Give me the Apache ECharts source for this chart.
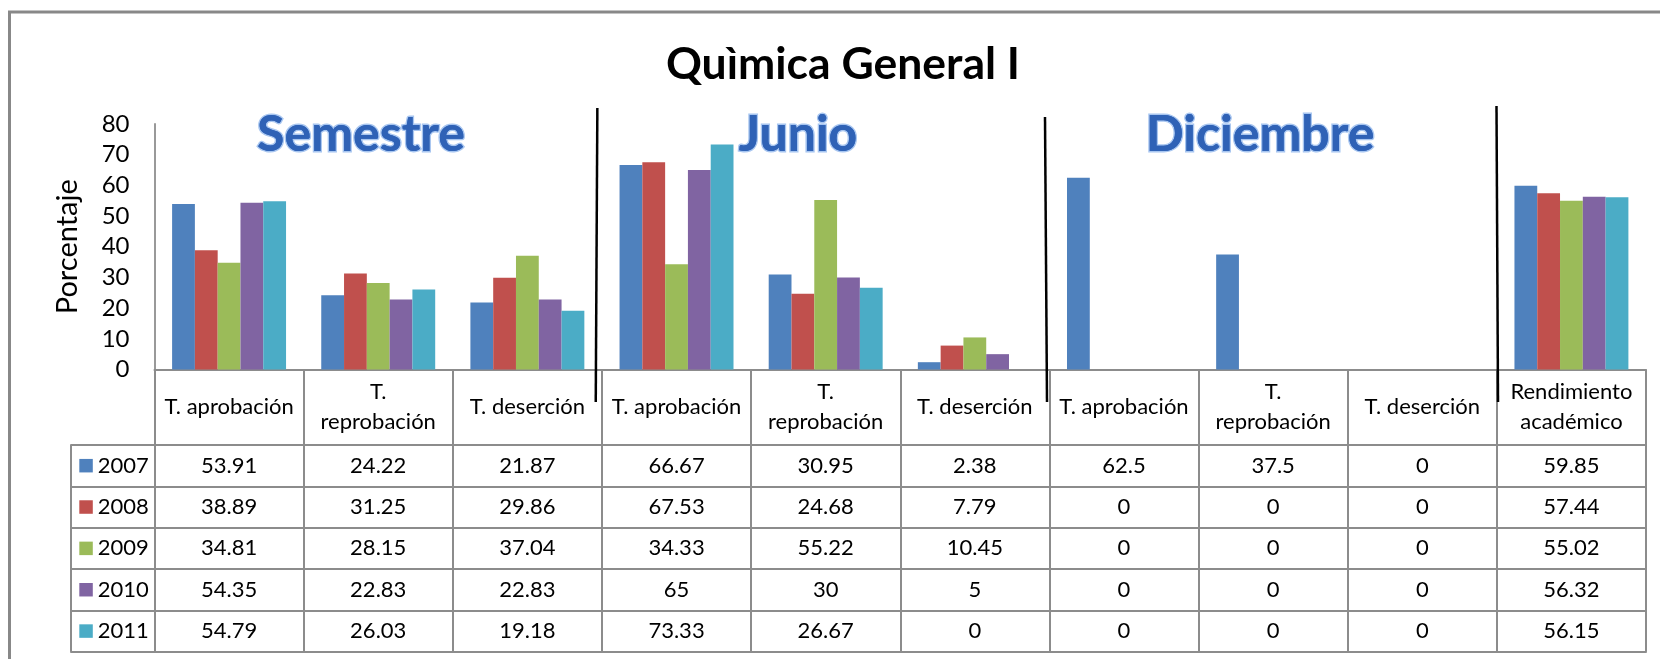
<!DOCTYPE html>
<html><head><meta charset="utf-8">
<script src="https://cdn.jsdelivr.net/npm/echarts@6/dist/echarts.min.js"></script>
<style>html,body{margin:0;padding:0;background:#fff}#c{width:1660px;height:659px}</style>
</head><body><div id="c"></div>
<script>
// ---- data ----
const categories = ['T. aprobación','T.\nreprobación','T. deserción','T. aprobación','T.\nreprobación','T. deserción','T. aprobación','T.\nreprobación','T. deserción','Rendimiento\nacadémico'];
const years = ['2007','2008','2009','2010','2011'];
const v2007 = [53.91, 24.22, 21.87, 66.67, 30.95, 2.38, 62.5, 37.5, 0, 59.85];
const v2008 = [38.89, 31.25, 29.86, 67.53, 24.68, 7.79, 0, 0, 0, 57.44];
const v2009 = [34.81, 28.15, 37.04, 34.33, 55.22, 10.45, 0, 0, 0, 55.02];
const v2010 = [54.35, 22.83, 22.83, 65, 30, 5, 0, 0, 0, 56.32];
const v2011 = [54.79, 26.03, 19.18, 73.33, 26.67, 0, 0, 0, 0, 56.15];
const yTickValues = [0, 10, 20, 30, 40, 50, 60, 70, 80];
const sectionNames = ['Semestre', 'Junio', 'Diciembre'];
const sectionSeparatorsAfter = [2, 5, 8];
const titleText = 'Quìmica General I';
const yAxisName = 'Porcentaje';

// ---- styles ----
const colors = ['#4F81BD', '#C0504D', '#9BBB59', '#8064A2', '#4BACC6'];
const rows = [v2007, v2008, v2009, v2010, v2011];
const FONT = 'Lato';
const TABLE_FS = 22;
const GRID_LEFT = 154.5, GRID_RIGHT = 14, GRID_TOP = 124, GRID_BOTTOM = 289.5;
const CANVAS_H = 659;
const HEADER_H = 75.5, ROW_H = 41.35;
const lineGray = '#8c8c8c';

const chart = echarts.init(document.getElementById('c'), null, {renderer: 'canvas'});

const xAxes = [];
// header axis (category names)
xAxes.push({
  type: 'category', gridIndex: 0, data: categories, position: 'bottom',
  axisLine: {show: true, onZero: false, lineStyle: {color: lineGray, width: 2}},
  axisTick: {show: true, inside: false, length: HEADER_H, interval: 0, lineStyle: {color: lineGray, width: 2}},
  axisLabel: {show: true, interval: 0, margin: HEADER_H / 2, verticalAlign: 'middle', lineHeight: 30,
    fontFamily: FONT, fontSize: TABLE_FS, color: '#000', align: 'center'}
});
// one axis per table row
rows.forEach((r, ri) => {
  xAxes.push({
    type: 'category', gridIndex: 0, data: categories, position: 'bottom',
    offset: HEADER_H + ri * ROW_H,
    axisLine: {show: true, onZero: false, lineStyle: {color: lineGray, width: 2}},
    axisTick: {show: true, length: ROW_H, interval: 0, lineStyle: {color: lineGray, width: 2}},
    axisLabel: {show: true, interval: 0, margin: ROW_H / 2, verticalAlign: 'middle',
      fontFamily: FONT, fontSize: TABLE_FS, color: '#000',
      formatter: (val, idx) => String(r[idx])}
  });
});
// closing bottom line
xAxes.push({
  type: 'category', gridIndex: 0, data: categories, position: 'bottom',
  offset: HEADER_H + rows.length * ROW_H,
  axisLine: {show: true, onZero: false, lineStyle: {color: lineGray, width: 2}},
  axisTick: {show: false}, axisLabel: {show: false}
});
// left legend column lines (grid 1)
for (let ri = 0; ri <= rows.length; ri++) {
  xAxes.push({
    type: 'category', gridIndex: 1, data: [''], position: 'bottom',
    offset: HEADER_H + ri * ROW_H,
    axisLine: {show: true, onZero: false, lineStyle: {color: lineGray, width: 2}},
    axisTick: {show: ri < rows.length, length: ROW_H, interval: 0, lineStyle: {color: lineGray, width: 2}},
    axisLabel: {show: false}
  });
}

const LEGEND_TEXT_H = 22;
const legends = years.map((y, i) => {
  const rowCenter = CANVAS_H - GRID_BOTTOM + HEADER_H + (i + 0.5) * ROW_H;
  return {
    data: [y], orient: 'vertical', left: 79.3, top: rowCenter - LEGEND_TEXT_H / 2, padding: 0,
    itemWidth: 13.5, itemHeight: 13.5, icon: 'rect', selectedMode: false,
    textStyle: {fontFamily: FONT, fontSize: TABLE_FS, color: '#000'}
  };
});

const option = {
  backgroundColor: '#fff',
  animation: false,
  color: colors,
  grid: [
    {left: GRID_LEFT, right: GRID_RIGHT, top: GRID_TOP, bottom: GRID_BOTTOM},
    {left: 71, width: GRID_LEFT - 71, top: GRID_TOP, bottom: GRID_BOTTOM}
  ],
  legend: legends,
  xAxis: xAxes,
  yAxis: [
    {type: 'value', gridIndex: 0, min: yTickValues[0], max: yTickValues[yTickValues.length - 1], interval: yTickValues[1] - yTickValues[0],
      name: yAxisName, nameLocation: 'middle', nameGap: 72,
      nameTextStyle: {fontFamily: FONT, fontSize: 29, color: '#000'},
      axisLine: {show: true, lineStyle: {color: '#999', width: 2}},
      axisTick: {show: false}, splitLine: {show: false},
      axisLabel: {margin: 25, fontFamily: FONT, fontSize: 24, color: '#000'}},
    {type: 'value', gridIndex: 1, show: false}
  ],
  series: years.map((y, i) => ({
    name: y, type: 'bar', xAxisIndex: 0, yAxisIndex: 0,
    data: rows[i], barGap: '0%', barCategoryGap: '23.6%',
    itemStyle: {color: colors[i]}
  }))
};
chart.setOption(option);

// ---- decorations: titles and separator lines ----
const sectionX = [361, 798, 1260];
const sepOffsets = [[-4.6, -6.2], [-4.4, -2.4], [-0.35, 1.15]];
const sepTop = [108, 117, 106];
const graphics = [
  {type: 'rect', shape: {x: 9.5, y: 12, width: 1700, height: 700}, silent: true,
    style: {fill: null, stroke: '#888', lineWidth: 3}},
  {type: 'text', x: 843, y: 64.8, silent: true,
    style: {text: titleText, align: 'center', verticalAlign: 'middle', fontFamily: FONT, fontWeight: 'bold', fontSize: 44.5, fill: '#000'}}
];
sectionNames.forEach((s, i) => {
  // soft glow layer
  graphics.push({
    type: 'text', x: sectionX[i], y: 134.5, silent: true, z: 10,
    style: {text: s, align: 'center', verticalAlign: 'middle', fontFamily: FONT, fontWeight: 'bold', fontSize: 50,
      fill: '#2f62b6', stroke: '#a8c6f0', lineWidth: 3,
      shadowBlur: 5, shadowColor: 'rgba(70,110,180,0.55)', shadowOffsetY: 2}
  });
  // main fill layer
  graphics.push({
    type: 'text', x: sectionX[i], y: 134.5, silent: true, z: 11,
    style: {text: s, align: 'center', verticalAlign: 'middle', fontFamily: FONT, fontWeight: 'bold', fontSize: 50,
      fill: '#2f62b6'}
  });
});
sectionSeparatorsAfter.forEach((ci, i) => {
  // categories repeat, so use index-based pixel positions
  const c0 = chart.convertToPixel({xAxisIndex: 0}, ci);
  const c1 = chart.convertToPixel({xAxisIndex: 0}, ci + 1);
  const bx = (c0 + c1) / 2;
  graphics.push({type: 'line', silent: true, z: 100,
    shape: {x1: bx + sepOffsets[i][0], y1: sepTop[i], x2: bx + sepOffsets[i][1], y2: 402},
    style: {stroke: '#000', lineWidth: 2.5}});
});
chart.setOption({graphic: graphics});
</script></body></html>
